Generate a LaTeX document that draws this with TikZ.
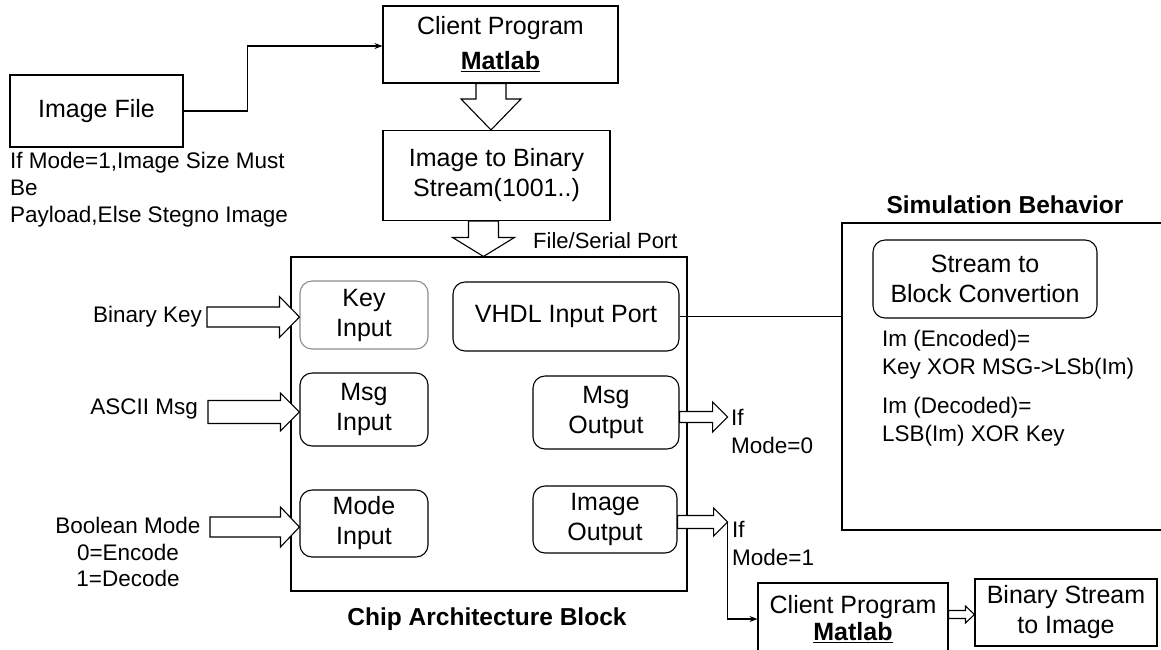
\documentclass[tikz,border=0pt]{standalone}
\usepackage{fontspec}
\setmainfont{Liberation Sans}
\usetikzlibrary{calc,arrows.meta}
\tikzset{
  box/.style={draw, line width=1.1pt, inner sep=0pt, align=center, font=\fontsize{25}{30}\selectfont},
  rbox/.style={box, rounded corners=12pt},
  lbl/.style={inner sep=0pt, font=\fontsize{22.5}{27}\selectfont},
  ttl/.style={inner sep=0pt, font=\bfseries\fontsize{24.5}{29}\selectfont},
  blk/.style={draw, fill=white, line width=1.1pt, line join=miter},
  conn/.style={draw, line width=1.1pt},
}
% horizontal hollow arrow: tail, tip, shaft half-width, head half-width, head length
\newcommand{\hollowR}[5]{\path[blk] ($(#1|-#2)+(0,#3)$) -- ($(#2)+(-#5,#3)$) -- ($(#2)+(-#5,#4)$) -- (#2) -- ($(#2)+(-#5,-#4)$) -- ($(#2)+(-#5,-#3)$) -- ($(#1|-#2)+(0,-#3)$) -- cycle;}
% downward hollow arrow
\newcommand{\hollowD}[5]{\path[blk] ($(#1-|#2)+(-#3,0)$) -- ($(#2)+(-#3,#5)$) -- ($(#2)+(-#4,#5)$) -- (#2) -- ($(#2)+(#4,#5)$) -- ($(#2)+(#3,#5)$) -- ($(#1-|#2)+(#3,0)$) -- cycle;}
\begin{document}
\begin{tikzpicture}[x=1pt,y=1pt]
\useasboundingbox (0,0) rectangle (1161,-649);
\clip (0,0) rectangle (1161,-649);

% left column
\node[box, minimum width=173, minimum height=72] (imgfile) at (96.5,-111) {Image File};
\node[lbl, anchor=west, align=left] (cap) at (10,-190) {If Mode=1,Image Size Must\\Be\\Payload,Else Stegno Image};

% top column
\node[box, minimum width=235, minimum height=77, font=\fontsize{25}{35}\selectfont] (client1) at (500.5,-44.5) {Client Program\\\underline{\textbf{Matlab}}};
\node[box, minimum width=227, minimum height=90] (img2bin) at (496.5,-175.5) {Image to Binary\\Stream(1001..)};

% chip block
\node[draw, line width=1.1pt, minimum width=396, minimum height=334, inner sep=0pt] (chip) at (489,-424) {};
\node[ttl] (chiptitle) at (487,-619) {Chip Architecture Block};

\node[rbox, draw=black!45, minimum width=128, minimum height=68] (keyin) at (364,-315) {Key\\Input};
\node[rbox, minimum width=128, minimum height=73] (msgin) at (364,-409.5) {Msg\\Input};
\node[rbox, minimum width=128, minimum height=67] (modein) at (364,-523.5) {Mode\\Input};
\node[rbox, minimum width=226, minimum height=69] (vhdl) at (566,-316.5) {VHDL Input Port};
\node[rbox, minimum width=146, minimum height=73] (msgout) at (606,-412.5) {Msg\\Output};
\node[rbox, minimum width=144, minimum height=67] (imgout) at (605,-519.5) {Image\\Output};

% input labels
\node[lbl, anchor=east] (binkey) at (202,-317) {Binary Key};
\node[lbl, anchor=east] (ascii) at (198,-409) {ASCII Msg};
\node[lbl, align=center, font=\fontsize{22.5}{26.5}\selectfont] (boolmode) at (128,-552) {Boolean Mode\\0=Encode\\1=Decode};
\coordinate (bktail) at (207,-317);
\coordinate (astail) at (208,-409);
\coordinate (bmtail) at (210,-523);

% output labels
\node[lbl, anchor=west, align=left, font=\fontsize{22.5}{28}\selectfont] (if0) at (731,-431) {If\\Mode=0};
\node[lbl, anchor=west, align=left, font=\fontsize{22.5}{28}\selectfont] (if1) at (732,-543) {If\\Mode=1};
\node[lbl, anchor=west, font=\fontsize{22}{26}\selectfont] (fsp) at (533,-241) {File/Serial Port};

% simulation
\node[draw, line width=1.1pt, minimum width=340, minimum height=307, inner sep=0pt] (sim) at (1012,-376.5) {};
\node[ttl] (simtitle) at (1005,-205) {Simulation Behavior};
\node[rbox, minimum width=224, minimum height=78] (stream) at (985,-279) {Stream to\\Block Convertion};
\node[lbl, anchor=west, align=left, font=\fontsize{22.5}{28}\selectfont] (enc) at (882,-355) {Im (Encoded)=\\Key XOR MSG->LSb(Im)};
\node[lbl, anchor=west, align=left, font=\fontsize{22.5}{28}\selectfont] (dec) at (882,-422) {Im (Decoded)=\\LSB(Im) XOR Key};

% bottom right
\node[box, minimum width=190, minimum height=72, font=\fontsize{25}{27}\selectfont] (client2) at (853,-619) {Client Program\\\underline{\textbf{Matlab}}};
\node[box, minimum width=182, minimum height=67] (binstream) at (1066,-612.5) {Binary Stream\\to Image};

% connectors
\draw[conn, -{Stealth[length=8pt,width=6pt]}] (imgfile.east) -- ++(64,0) |- ([yshift=-1.5pt]client1.west);
\draw[conn] (vhdl.east) -- (vhdl.east -| sim.west);

\coordinate (t1) at ([xshift=-5.5pt]img2bin.north);
\hollowD{client1.south}{t1}{15}{30}{31}
\coordinate (t2) at ([xshift=-5.5pt]chip.north);
\hollowD{img2bin.south}{t2}{15}{31}{19}

\coordinate (tk) at ([yshift=-2pt]keyin.west);
\hollowR{bktail}{tk}{10}{20.5}{20}
\coordinate (tm) at ([yshift=-2.5pt]msgin.west);
\hollowR{astail}{tm}{11.5}{19}{19}
\coordinate (tb) at ([yshift=-3.5pt]modein.west);
\hollowR{bmtail}{tb}{10}{20}{19}

\coordinate (to0) at ($(msgout.east)+(48,-4.5)$);
\hollowR{msgout.east}{to0}{5.5}{15}{15}
\coordinate (to1) at ($(imgout.east)+(50,-2.5)$);
\draw[conn, -{Stealth[length=8pt,width=6pt]}] (to1) |- (client2.west);
\hollowR{imgout.east}{to1}{6.5}{14}{14}

\coordinate (tbs) at ([yshift=-2pt]binstream.west);
\hollowR{client2.east}{tbs}{4}{8.5}{9}
\end{tikzpicture}
\end{document}
